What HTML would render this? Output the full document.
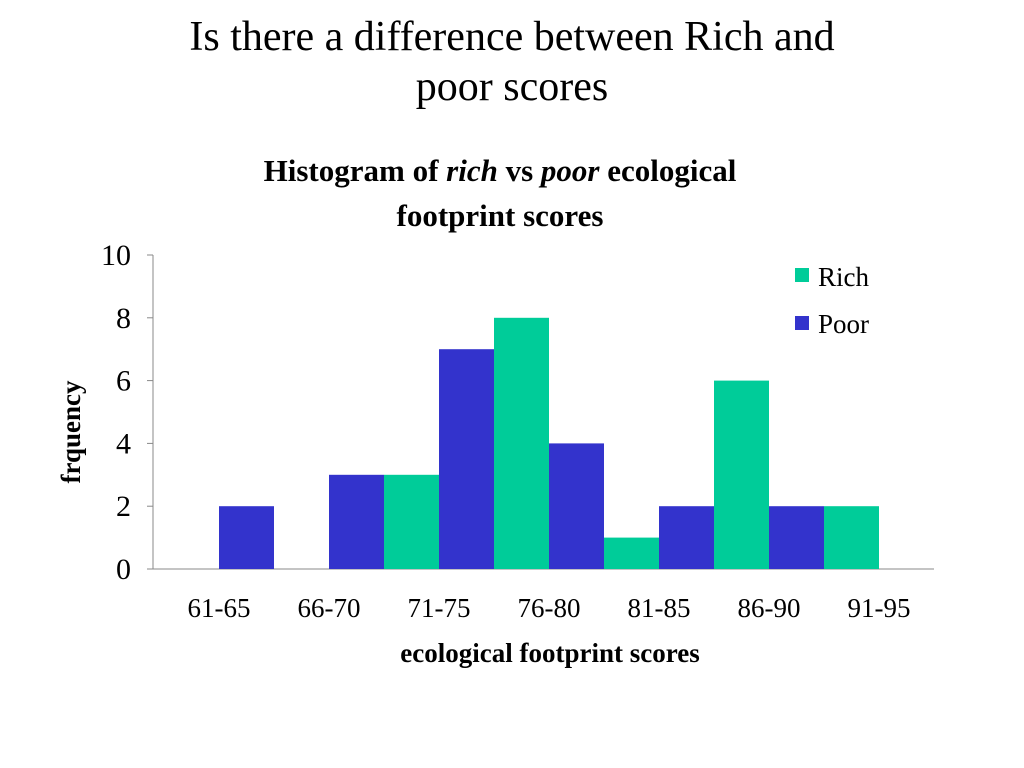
<!DOCTYPE html>
<html><head><meta charset="utf-8">
<style>
body{margin:0;width:1024px;height:768px;background:#fff;font-family:"Liberation Serif",serif;overflow:hidden;position:relative}
.t{position:absolute;left:0;width:1024px;text-align:center}
</style></head><body>
<div class="t" style="top:12px;font-size:42px;line-height:50px">Is there a difference between Rich and<br>poor scores</div>
<svg width="1024" height="768" style="position:absolute;left:0;top:0">
<text x="500" y="181" text-anchor="middle" font-size="31" font-weight="bold" font-family="Liberation Serif">Histogram of <tspan font-style="italic">rich</tspan> vs <tspan font-style="italic">poor</tspan> ecological</text>
<text x="500" y="226" text-anchor="middle" font-size="31" font-weight="bold" font-family="Liberation Serif">footprint scores</text>
<g id="axes"></g>
<g id="bars"></g>
<text x="550" y="662" text-anchor="middle" font-size="27" font-weight="bold" font-family="Liberation Serif">ecological footprint scores</text>
<text transform="translate(80,432) rotate(-90)" text-anchor="middle" font-size="27" font-weight="bold" font-family="Liberation Serif">frquency</text>
<rect x="795" y="268" width="14" height="14" fill="#00CC99"/>
<text x="818" y="286" font-size="27" font-family="Liberation Serif">Rich</text>
<rect x="795" y="316" width="14" height="14" fill="#3333CC"/>
<text x="818" y="333" font-size="27" font-family="Liberation Serif">Poor</text>
</svg>
<script>
const categories=["61-65","66-70","71-75","76-80","81-85","86-90","91-95"];
const rich=[0,0,3,8,1,6,2];
const poor=[2,3,7,4,2,2,0];
const yTicks=[0,2,4,6,8,10];
const NS="http://www.w3.org/2000/svg";
const x0=164,cw=110,y0=569,yTop=255,yMax=10;
const y=v=>y0-(v/yMax)*(y0-yTop);
const xc=i=>x0+i*cw;
function mk(p,tag,attrs){const e=document.createElementNS(NS,tag);for(const k in attrs)e.setAttribute(k,attrs[k]);p.appendChild(e);return e;}
const ax=document.getElementById('axes'),bg=document.getElementById('bars');
let l=mk(ax,'line',{x1:153,y1:y0,x2:934,y2:y0,stroke:'#888','stroke-width':1});


l=mk(ax,'line',{x1:153,y1:yTop,x2:153,y2:y0,stroke:'#888','stroke-width':1});


yTicks.forEach(v=>{
 const t=mk(ax,'line',{x1:147,y1:y(v),x2:153,y2:y(v),stroke:'#888'});
 
 
 const tx=mk(ax,'text',{x:131,y:y(v)+10,'text-anchor':'end','font-size':30,'font-family':'Liberation Serif'});
 tx.textContent=v;
 
 
});
categories.forEach((c,i)=>{
 const tx=mk(ax,'text',{x:xc(i)+cw/2,y:617,'text-anchor':'middle','font-size':27,'font-family':'Liberation Serif'});
 tx.textContent=c;
 
 
 const r=mk(bg,'rect',{x:xc(i),y:y(rich[i]),width:cw/2,height:y0-y(rich[i]),fill:'#00CC99'});
 
 
 const p=mk(bg,'rect',{x:xc(i)+cw/2,y:y(poor[i]),width:cw/2,height:y0-y(poor[i]),fill:'#3333CC'});
 
 
});
</script>
</body></html>
